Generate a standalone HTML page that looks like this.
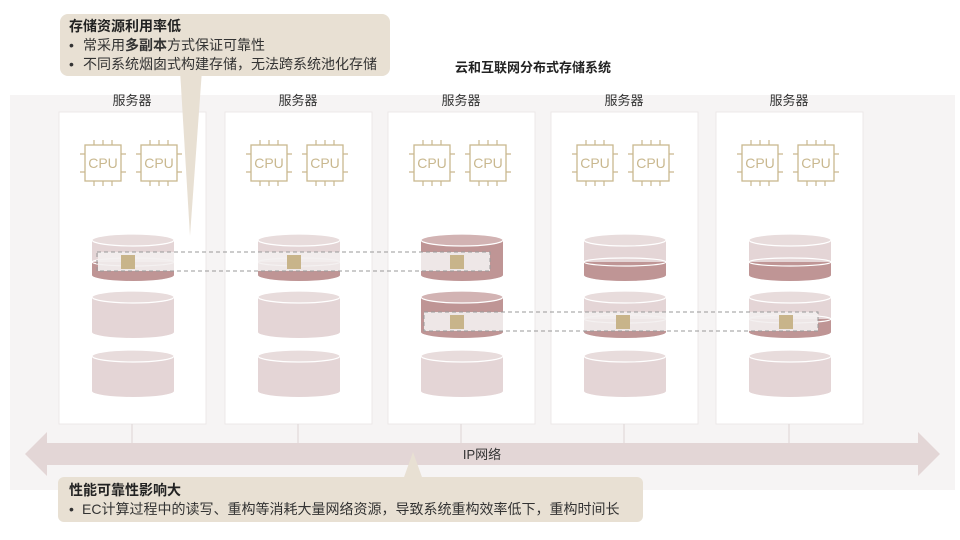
<!DOCTYPE html>
<html><head><meta charset="utf-8"><style>
body{margin:0;width:960px;height:540px;background:#fff;overflow:hidden;position:relative;font-family:"Liberation Sans","Noto Sans CJK SC",sans-serif}
</style></head><body>
<svg width="960" height="540" style="position:absolute;left:0;top:0" font-family="Liberation Sans, Noto Sans CJK SC, sans-serif">
<defs>
<g id="cpu"><rect x="0" y="0" width="36" height="36" fill="#fff" stroke="#c9b88f" stroke-width="1.3"/>
<path d="M9 0v-5M18 0v-5M27 0v-5M9 36v5M18 36v5M27 36v5M0 9h-5M0 27h-5M36 9h5M36 27h5" stroke="#c9b88f" stroke-width="1.2"/>
<text x="18" y="23" font-size="14" fill="#c9b88f" text-anchor="middle">CPU</text></g>
<g id="dl"><path d="M0 6v35a41 6 0 0 0 82 0v-35z" fill="#e4d5d6"/><ellipse cx="41" cy="6" rx="41" ry="6" fill="#e8dcdc" stroke="#fff" stroke-width="1.2"/></g>
<g id="dd"><path d="M0 6v35a41 6 0 0 0 82 0v-35z" fill="#bf9595"/><ellipse cx="41" cy="6" rx="41" ry="6" fill="#d2b3b3" stroke="#fff" stroke-width="1.2"/></g>
<g id="dh"><path d="M0 6v35a41 6 0 0 0 82 0v-35z" fill="#e4d5d6"/><path d="M0 28v13a41 6 0 0 0 82 0v-13z" fill="#bf9595"/><ellipse cx="41" cy="28" rx="41" ry="4" fill="none" stroke="#fff" stroke-width="1.2"/><ellipse cx="41" cy="6" rx="41" ry="6" fill="#e8dcdc" stroke="#fff" stroke-width="1.2"/></g>
</defs>
<rect x="10" y="95" width="945" height="395" fill="#f6f4f4"/>
<g fill="#fff" stroke="#ece8e8">
<rect x="59" y="112" width="147" height="312"/><rect x="225" y="112" width="147" height="312"/><rect x="388" y="112" width="147" height="312"/><rect x="551" y="112" width="147" height="312"/><rect x="716" y="112" width="147" height="312"/>
</g>
<g stroke="#ddd5d5"><path d="M132 424v19M298 424v19M461 424v19M624 424v19M789 424v19"/></g>
<g font-size="13" fill="#333" text-anchor="middle"><text x="132" y="105">服务器</text><text x="298" y="105">服务器</text><text x="461" y="105">服务器</text><text x="624" y="105">服务器</text><text x="789" y="105">服务器</text></g>
<text x="533" y="72" font-size="13" font-weight="bold" fill="#222" text-anchor="middle">云和互联网分布式存储系统</text>
<use href="#cpu" x="85" y="145"/><use href="#cpu" x="141" y="145"/>
<use href="#cpu" x="251" y="145"/><use href="#cpu" x="307" y="145"/>
<use href="#cpu" x="414" y="145"/><use href="#cpu" x="470" y="145"/>
<use href="#cpu" x="577" y="145"/><use href="#cpu" x="633" y="145"/>
<use href="#cpu" x="742" y="145"/><use href="#cpu" x="798" y="145"/>
<use href="#dh" x="92" y="234"/><use href="#dl" x="92" y="291"/><use href="#dl" x="92" y="350"/>
<use href="#dh" x="258" y="234"/><use href="#dl" x="258" y="291"/><use href="#dl" x="258" y="350"/>
<use href="#dd" x="421" y="234"/><use href="#dd" x="421" y="291"/><use href="#dl" x="421" y="350"/>
<use href="#dh" x="584" y="234"/><use href="#dh" x="584" y="291"/><use href="#dl" x="584" y="350"/>
<use href="#dh" x="749" y="234"/><use href="#dh" x="749" y="291"/><use href="#dl" x="749" y="350"/>
<g fill="#f3efef" fill-opacity=".9"><rect x="98" y="252" width="76" height="19"/><rect x="258" y="252" width="82" height="19"/><rect x="421" y="252" width="69" height="19"/>
<rect x="424" y="312" width="79" height="19"/><rect x="584" y="312" width="82" height="19"/><rect x="749" y="312" width="69" height="19"/></g>
<g fill="none" stroke="#999" stroke-dasharray="4,3"><rect x="97" y="252" width="393" height="19"/><rect x="424" y="312" width="394" height="19"/></g>
<g fill="#c8b48a"><rect x="121" y="255" width="14" height="14"/><rect x="287" y="255" width="14" height="14"/><rect x="450" y="255" width="14" height="14"/>
<rect x="450" y="315" width="14" height="14"/><rect x="616" y="315" width="14" height="14"/><rect x="779" y="315" width="14" height="14"/></g>
<path d="M25 454L47 432V443H918V432L940 454L918 476V465H47V476Z" fill="#e3d6d6"/>
<text x="482" y="459" font-size="13" fill="#333" text-anchor="middle">IP网络</text>
<path d="M180 70L190 236L202 70Z" fill="#e8e0d3"/>
<rect x="60" y="14" width="330" height="62" rx="8" fill="#e8e0d3"/>
<text x="69" y="31" font-size="14" font-weight="bold" fill="#222">存储资源利用率低</text>
<text x="69" y="50" font-size="14" fill="#333">•<tspan x="83">常采用</tspan><tspan font-weight="bold">多副本</tspan>方式保证可靠性</text>
<text x="69" y="69" font-size="14" fill="#333">•<tspan x="83">不同系统烟囱式构建存储，无法跨系统池化存储</tspan></text>
<path d="M403 480L413 452L423 480Z" fill="#e8e0d3"/>
<rect x="58" y="477" width="585" height="45" rx="6" fill="#e8e0d3"/>
<text x="69" y="495" font-size="14" font-weight="bold" fill="#222">性能可靠性影响大</text>
<text x="69" y="514" font-size="14" fill="#333">•<tspan x="82">EC计算过程中的读写、重构等消耗大量网络资源，导致系统重构效率低下，重构时间长</tspan></text>
</svg>
</body></html>
